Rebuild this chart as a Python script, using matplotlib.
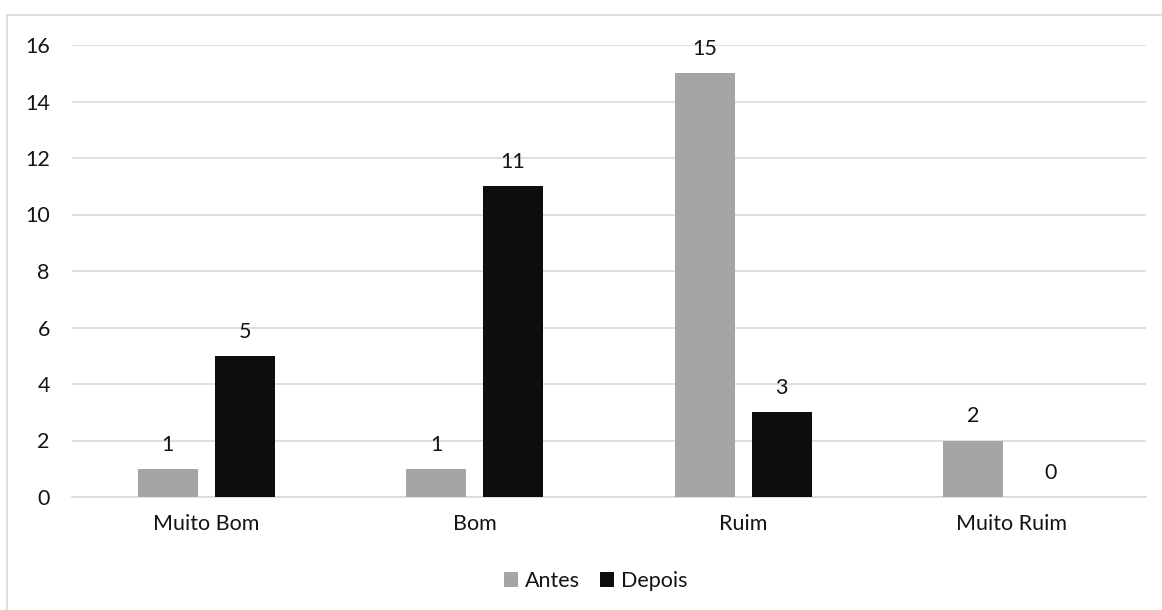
import numpy as np
import matplotlib.pyplot as plt

categorias = ['Muito Bom', 'Bom', 'Ruim', 'Muito Ruim']
antes = [1, 1, 15, 2]
depois = [5, 11, 3, 0]

plt.rcParams['font.family'] = ['Lato', 'DejaVu Sans']
cor_texto = '#141414'
fs = 15.5

fig = plt.figure(figsize=(11.62, 6.10), dpi=100)
ax = fig.add_axes([72/1162, 1 - 497/610, (1146 - 72)/1162, (497 - 45)/610])

x = np.arange(len(categorias))
larg = 0.2235
desl = 0.143
b1 = ax.bar(x - desl, antes, larg, color='#a5a5a5', label='Antes', zorder=3)
b2 = ax.bar(x + desl, depois, larg, color='#0d0d0d', label='Depois', zorder=3)

for barras in (b1, b2):
    for r in barras:
        ax.text(r.get_x() + r.get_width()/2, r.get_height() + 0.5, str(int(r.get_height())),
                ha='center', va='bottom', fontsize=fs, color=cor_texto)

ax.set_xlim(-0.5, 3.5)
ax.set_ylim(0, 16)
ax.set_yticks(range(0, 17, 2))
ax.set_xticks(x)
ax.set_xticklabels(categorias)
ax.yaxis.grid(True, color='#d9d9d9', linewidth=1.2, zorder=0)
for s in ['top', 'right', 'left']:
    ax.spines[s].set_visible(False)
ax.spines['bottom'].set_color('#d9d9d9')
ax.spines['bottom'].set_linewidth(1.2)
ax.tick_params(axis='both', length=0, labelsize=fs, colors=cor_texto)
ax.tick_params(axis='x', pad=12)
ax.tick_params(axis='y', pad=16)

leg = fig.legend(loc='center', bbox_to_anchor=(596/1162, 1 - 581/610), ncol=2, frameon=False,
                 fontsize=fs, handlelength=0.65, handleheight=0.65, handletextpad=0.33,
                 columnspacing=0.93)
for t in leg.get_texts():
    t.set_color(cor_texto)

# borda do gráfico (apenas esquerda e topo visíveis no recorte)
fig.add_artist(plt.Line2D([7/1162, 7/1162], [0, 1 - 15/610], transform=fig.transFigure,
                          color='#d9d9d9', linewidth=1.2))
fig.add_artist(plt.Line2D([7/1162, 1], [1 - 15/610, 1 - 15/610], transform=fig.transFigure,
                          color='#d9d9d9', linewidth=1.2))

fig.savefig('out.png', dpi=100)
